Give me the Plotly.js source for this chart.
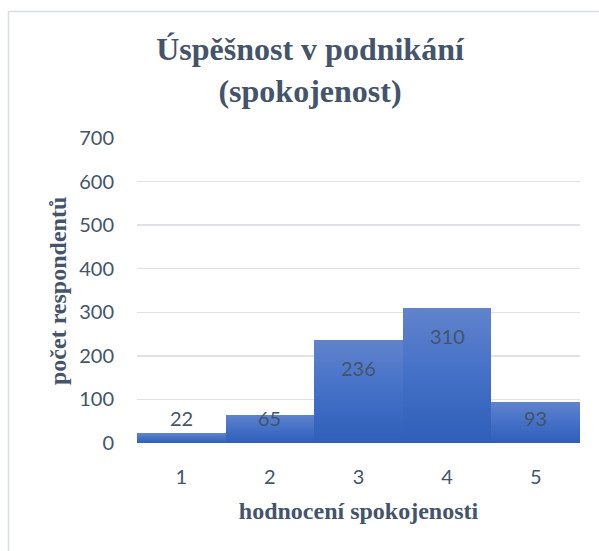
<!DOCTYPE html>
<html>
<head>
<meta charset="utf-8">
<script src="https://cdn.plot.ly/plotly-3.0.1.min.js"></script>
<style>
  html, body { margin: 0; padding: 0; background: #ffffff; }
  #chart { width: 599px; height: 551px; }
</style>
</head>
<body>
<div id="chart"></div>
<script>
const categories = ["1", "2", "3", "4", "5"];
const counts = [22, 65, 236, 310, 93];
const yTicks = [0, 100, 200, 300, 400, 500, 600, 700];
const chartTitle = "Úspěšnost v podnikání<br>(spokojenost)";
const xTitle = "hodnocení spokojenosti";
const yTitle = "počet respondentů";

const W = 599, H = 551;
const M = { l: 137, r: 19, t: 138, b: 108 };
const plotW = W - M.l - M.r;
const plotH = H - M.t - M.b;
const yMax = 700;
const pxPerUnit = plotH / yMax;

const textColor = "#44546a";
const numFont = { family: "Lato, 'Open Sans', sans-serif", size: 20, color: textColor };
const serifBold = "'Liberation Serif', 'Times New Roman', serif";

const annotations = counts.map((v, i) => {
  const yLabel = Math.max(v - 28 / pxPerUnit, 25 / pxPerUnit);
  return {
    x: i, y: yLabel, xref: "x", yref: "y",
    text: String(v), showarrow: false, yanchor: "middle", xanchor: "center",
    font: numFont
  };
});
annotations.push({
  xref: "paper", yref: "paper",
  x: (58 - M.l) / plotW, y: (H - M.b - 291) / plotH,
  xanchor: "center", yanchor: "middle", textangle: -90, showarrow: false,
  text: "<b>" + yTitle + "</b>",
  font: { family: serifBold, size: 24, color: textColor }
});

const trace = {
  type: "bar",
  x: categories,
  y: counts,
  marker: { color: "#4470c6", line: { width: 0 } },
  hoverinfo: "x+y"
};

const layout = {
  width: W, height: H,
  margin: M,
  paper_bgcolor: "#ffffff",
  plot_bgcolor: "#ffffff",
  bargap: 0,
  showlegend: false,
  title: {
    text: "<b>" + chartTitle + "</b>",
    font: { family: serifBold, size: 32, color: textColor },
    x: 310 / W, xref: "container", xanchor: "center",
    y: 1 - 60 / H, yref: "container", yanchor: "middle"
  },
  xaxis: {
    type: "category",
    range: [-0.5, categories.length - 0.5],
    showgrid: false, zeroline: false, showline: false, ticks: "",
    tickfont: numFont,
    ticklabelstandoff: 20,
    title: { text: "<b>" + xTitle + "</b>", font: { family: serifBold, size: 24, color: textColor }, standoff: 15 }
  },
  yaxis: {
    range: [0, yMax],
    tickvals: yTicks,
    ticktext: yTicks.map(String),
    showgrid: true, gridcolor: "#dfe3e9", gridwidth: 1.5,
    zeroline: false, showline: false, ticks: "",
    tickfont: numFont,
    ticklabelstandoff: 22
  },
  annotations: annotations,
  shapes: [{
    type: "rect", xref: "paper", yref: "paper",
    x0: (8.5 - M.l) / plotW, x1: 1.2,
    y0: -0.6, y1: (H - M.b - 11.5) / plotH,
    line: { color: "#d9dee6", width: 1.5 }, fillcolor: "rgba(0,0,0,0)", layer: "below"
  }]
};

Plotly.newPlot("chart", [trace], layout, { displayModeBar: false, staticPlot: true }).then(() => {
  const svg = document.querySelector("#chart .main-svg");
  const ns = "http://www.w3.org/2000/svg";
  let defs = svg.querySelector("defs");
  if (!defs) { defs = document.createElementNS(ns, "defs"); svg.insertBefore(defs, svg.firstChild); }
  const grad = document.createElementNS(ns, "linearGradient");
  grad.setAttribute("id", "barGrad");
  grad.setAttribute("x1", "0"); grad.setAttribute("y1", "0");
  grad.setAttribute("x2", "0"); grad.setAttribute("y2", "1");
  [["0", "#6183cc"], ["0.45", "#4672c8"], ["1", "#2f5fb9"]].forEach(([o, c]) => {
    const s = document.createElementNS(ns, "stop");
    s.setAttribute("offset", o); s.setAttribute("stop-color", c);
    grad.appendChild(s);
  });
  defs.appendChild(grad);
  document.querySelectorAll("#chart .bars .point path").forEach(p => {
    p.style.fill = "url(#barGrad)";
  });
});
</script>
</body>
</html>
